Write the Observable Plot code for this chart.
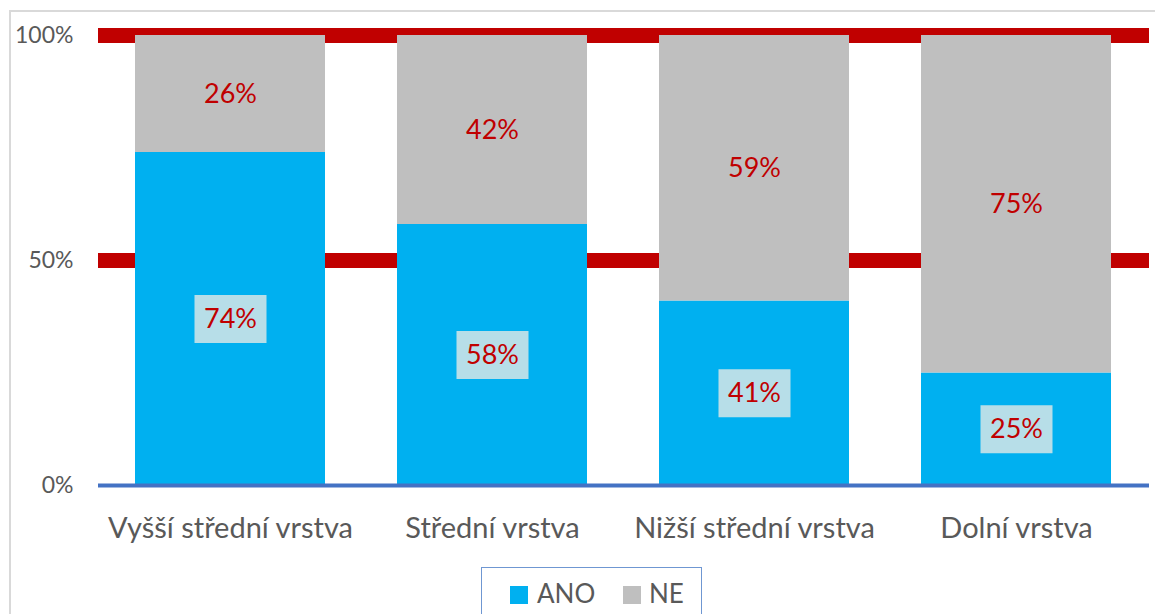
<!DOCTYPE html>
<html><head><meta charset="utf-8">
<script src="https://cdn.jsdelivr.net/npm/d3@7"></script>
<script src="https://cdn.jsdelivr.net/npm/@observablehq/plot@0.6"></script>
<style>
body{margin:0;background:#fff;overflow:hidden;font-family:Lato,sans-serif}
#wrap{position:relative;width:1155px;height:614px;overflow:hidden;background:#fff}
#border{position:absolute;left:9px;top:10px;width:1200px;height:700px;border:2px solid #D9D9D9}
#chart{position:absolute;left:0;top:0}
#legend{position:absolute;left:481px;top:567px;width:219px;height:80px;border:1.5px solid #6F97D2;background:#fff}
.sw{position:absolute;top:18px;width:18px;height:18px}
.lt{position:absolute;top:10px;font-size:26px;color:#595959;line-height:30px}
</style></head>
<body><div id="wrap"><div id="border"></div><div id="chart"></div><div id="legend"></div></div>
<script>
const categories = ["Vyšší střední vrstva", "Střední vrstva", "Nižší střední vrstva", "Dolní vrstva"];
const series = ["ANO", "NE"];
const ano = [74, 58, 41, 25];
const ne = [26, 42, 59, 75];
const yTicks = [0, 50, 100];
const redLines = [50, 100];
const colors = ["#00B0F0", "#BFBFBF"];

const data = [];
categories.forEach((c, i) => data.push({cat: c, series: "ANO", value: ano[i]}));
categories.forEach((c, i) => data.push({cat: c, series: "NE", value: ne[i]}));

const chart = Plot.plot({
  width: 1155,
  height: 560,
  marginLeft: 98,
  marginRight: 6,
  marginTop: 35,
  marginBottom: 75,
  style: {fontFamily: "Lato, sans-serif", color: "#595959", background: "transparent"},
  x: {domain: categories, paddingInner: 0.273, paddingOuter: 0.137, label: null},
  y: {domain: [0, 100], label: null},
  color: {domain: series, range: colors},
  marks: [
    Plot.ruleY(redLines, {stroke: "#C00000", strokeWidth: 15}),
    Plot.barY(data, {x: "cat", y: "value", fill: "series"}),
    Plot.ruleY([0], {stroke: "#4472C4", strokeWidth: 4}),
    Plot.text(data, Plot.stackY({
      x: "cat", y: "value", z: "series",
      text: d => d.value + "%",
      fill: "#C00000", fontSize: 27,
      render(index, scales, values, dimensions, context, next) {
        const g = next(index, scales, values, dimensions, context);
        const ns = "http://www.w3.org/2000/svg";
        const bg = document.createElementNS(ns, "g");
        for (const i of index) {
          if (data[i].series !== "ANO") continue;
          const r = document.createElementNS(ns, "rect");
          r.setAttribute("x", values.x[i] - 36);
          r.setAttribute("y", values.y[i] - 24);
          r.setAttribute("width", 72);
          r.setAttribute("height", 48);
          r.setAttribute("fill", "#B7DEE8");
          bg.appendChild(r);
        }
        g.insertBefore(bg, g.firstChild);
        return g;
      }
    })),
    Plot.axisY({ticks: yTicks, tickFormat: d => d + "%", tickSize: 0, tickPadding: 25, fontSize: 23}),
    Plot.axisX({tickSize: 0, tickPadding: 32, fontSize: 29})
  ]
});
document.getElementById("chart").appendChild(chart);

const legend = document.getElementById("legend");
const swX = [28, 141];
const txtX = [55, 167];
series.forEach((s, i) => {
  const sw = document.createElement("div");
  sw.className = "sw"; sw.style.left = swX[i] + "px"; sw.style.background = colors[i];
  const t = document.createElement("div");
  t.className = "lt"; t.style.left = txtX[i] + "px"; t.textContent = s;
  legend.appendChild(sw); legend.appendChild(t);
});
</script></body></html>
